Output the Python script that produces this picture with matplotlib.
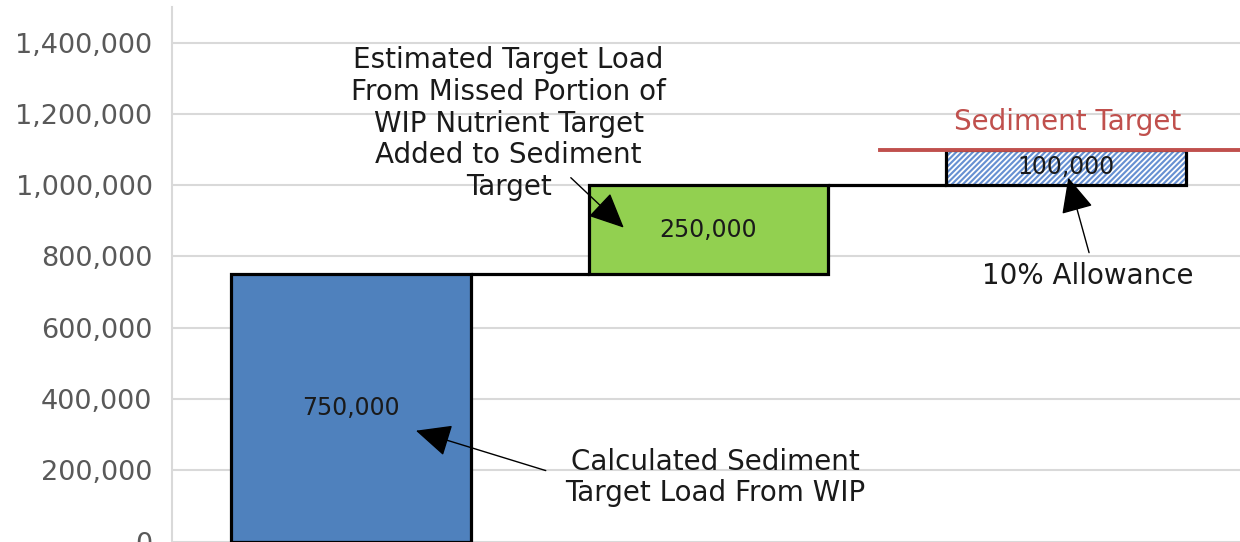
import matplotlib
matplotlib.use("Agg")
import matplotlib.pyplot as plt
import numpy as np

# ---- data ----
categories = ["Calculated WIP Load", "Missed WIP Portion", "10% Allowance"]
values = [750000, 250000, 100000]
bar_labels = ["750,000", "250,000", "100,000"]
sediment_target = 1100000
yticks = [0, 200000, 400000, 600000, 800000, 1000000, 1200000, 1400000]
ytick_labels = ["0", "200,000", "400,000", "600,000", "800,000", "1,000,000", "1,200,000", "1,400,000"]

bottoms = np.concatenate([[0], np.cumsum(values)[:-1]])
tops = bottoms + np.array(values)
x = np.arange(len(categories))

plt.rcParams['font.family'] = ['DejaVu Sans']
plt.rcParams['hatch.linewidth'] = 1.3
plt.rcParams['hatch.color'] = 'white'

fig = plt.figure(figsize=(12.4, 5.42), dpi=100)
ax = fig.add_axes([172/1240, 0.5/542, 1068/1240, 534.5/542])

w = 0.67
edge_lw = 2.3
ax.bar(x[0], values[0], bottom=bottoms[0], width=w, color='#4f81bd', edgecolor='black', linewidth=edge_lw, zorder=3)
ax.bar(x[1], values[1], bottom=bottoms[1], width=w, color='#92d050', edgecolor='black', linewidth=edge_lw, zorder=3)
ax.bar(x[2], values[2], bottom=bottoms[2], width=w, color='#6690d2', edgecolor='white', hatch='//////', linewidth=0, zorder=3)
ax.bar(x[2], values[2], bottom=bottoms[2], width=w, facecolor='none', edgecolor='black', linewidth=edge_lw, zorder=4)

for i in range(len(values) - 1):
    ax.plot([x[i] + w/2, x[i+1] - w/2], [tops[i], tops[i]], color='black', lw=2.3, zorder=3, solid_capstyle='butt')

for i in range(len(values)):
    ax.text(x[i], bottoms[i] + values[i]/2, bar_labels[i], ha='center', va='center', fontsize=17, color='#1a1a1a', zorder=5)

ax.set_xlim(-0.5, 2.486)
ax.set_ylim(0, 1500000)

ax.plot([1.48, 2.486], [sediment_target, sediment_target], color='#c0504d', lw=2.8, zorder=5, clip_on=False)
ax.text(2.003, 1178000, "Sediment Target", ha='center', va='center', fontsize=20, color='#c0504d')

arrow = dict(arrowstyle='-|>,head_length=1.3,head_width=0.6', color='black', lw=1.0, mutation_scale=17, shrinkA=0, shrinkB=0)
ax.text(0.441, 1172500, "Estimated Target Load\nFrom Missed Portion of\nWIP Nutrient Target\nAdded to Sediment\nTarget",
        ha='center', va='center', fontsize=20, color='#1a1a1a', linespacing=1.17, multialignment='center')
ax.annotate("", xy=(0.763, 880800), xytext=(0.615, 1021000), arrowprops=arrow, zorder=6)

ax.text(1.02, 179500, "Calculated Sediment\nTarget Load From WIP", ha='center', va='center', fontsize=20,
        color='#1a1a1a', linespacing=1.17, multialignment='center')
ax.annotate("", xy=(0.182, 311000), xytext=(0.545, 199000), arrowprops=arrow, zorder=6)

ax.text(2.059, 746000, "10% Allowance", ha='center', va='center', fontsize=20, color='#1a1a1a')
ax.annotate("", xy=(2.006, 1021000), xytext=(2.064, 810600), arrowprops=arrow, zorder=6)

ax.set_yticks(yticks)
ax.set_yticklabels(ytick_labels, fontsize=19.5, color='#595959')
ax.set_xticks([])
ax.tick_params(axis='y', length=0, pad=14)
ax.grid(axis='y', color='#d9d9d9', lw=1.5, zorder=0)
ax.set_axisbelow(True)
for s in ['top', 'right', 'bottom']:
    ax.spines[s].set_visible(False)
ax.spines['left'].set_color('#d9d9d9')
ax.spines['left'].set_linewidth(1.5)

fig.savefig("out.png", dpi=100)
